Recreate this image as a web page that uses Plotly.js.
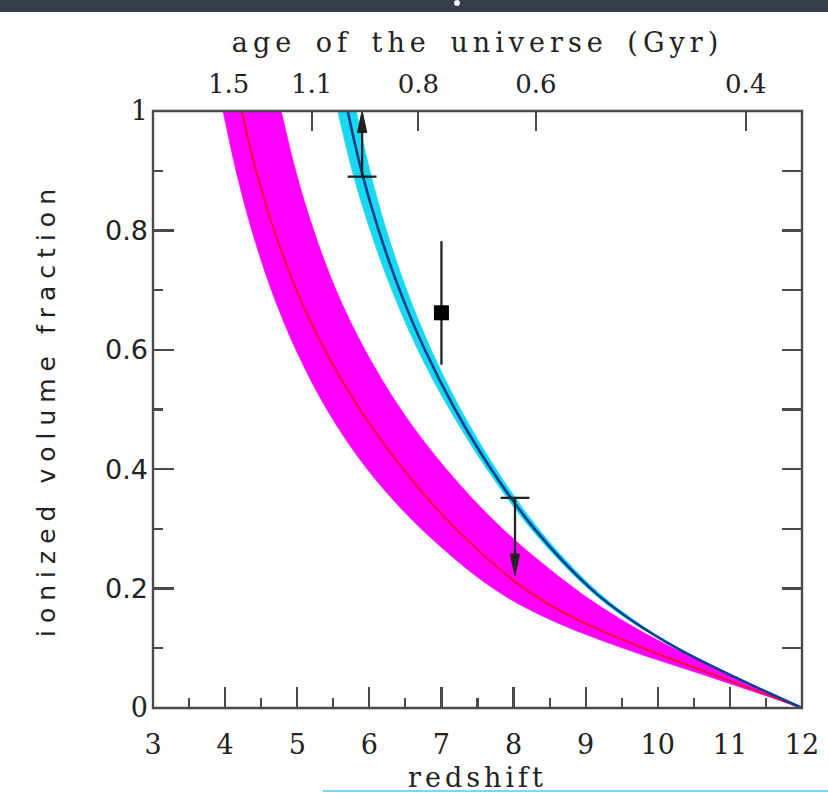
<!DOCTYPE html>
<html>
<head>
<meta charset="utf-8">
<script src="https://cdn.plot.ly/plotly-3.0.1.min.js"></script>
<style>
  html, body { margin: 0; padding: 0; background: #ffffff; }
  #chart { width: 828px; height: 793px; }
  .x2title { letter-spacing: 5px; word-spacing: 6px; }
  .ytitle { letter-spacing: 7px; }
  .xtitle { letter-spacing: 4px; }
</style>
</head>
<body>
<div id="chart"></div>
<script>
// ---------------- data ----------------
const redshiftTicks   = [3, 4, 5, 6, 7, 8, 9, 10, 11, 12];
const ageTickRedshift = [4.05, 5.2, 6.68, 8.31, 11.22];
const ageTickLabels   = ['1.5', '1.1', '0.8', '0.6', '0.4'];
const yTickVals       = [0, 0.2, 0.4, 0.6, 0.8, 1];
const yTickLabels     = ['<span style="font-family:DejaVu Serif">0</span>', '0.2', '0.4', '0.6', '0.8', '<span style="font-family:DejaVu Serif">1</span>'];

// ionized fraction levels at which the curves were read
const fracLevels = [1.0, 0.9, 0.8, 0.7, 0.6, 0.5, 0.4, 0.3, 0.2, 0.15, 0.1, 0.05, 0];

// magenta band (left / right edge) and its central red curve: redshift at each level
const magentaLowerZ = [3.97, 4.15, 4.37, 4.64, 4.98, 5.41, 5.97, 6.72, 7.72, 8.47, 9.52, 10.77, 12.0];
const magentaUpperZ = [4.78, 4.98, 5.23, 5.54, 5.94, 6.44, 7.07, 7.85, 8.85, 9.47, 10.22, 11.10, 12.0];
const redZ          = [4.23, 4.43, 4.68, 4.99, 5.38, 5.87, 6.47, 7.20, 8.15, 8.85, 9.80, 10.90, 12.0];

// cyan band (left / right edge) and its central blue curve
const cyanLowerZ = [5.56, 5.76, 6.01, 6.31, 6.67, 7.11, 7.63, 8.24, 9.03, 9.56, 10.25, 11.08, 12.0];
const cyanUpperZ = [5.82, 6.01, 6.24, 6.52, 6.86, 7.27, 7.76, 8.35, 9.12, 9.64, 10.30, 11.12, 12.0];
const blueZ      = [5.70, 5.89, 6.13, 6.42, 6.77, 7.19, 7.69, 8.29, 9.07, 9.60, 10.27, 11.10, 12.0];

// observational constraints
const lowerLimitZ = [5.9],  lowerLimitF = [0.89],  lowerLimitTo = [1.0];
const measZ = [7.0], measF = [0.662], measErrPlus = [0.12], measErrMinus = [0.087];
const upperLimitZ = [8.02], upperLimitF = [0.352], upperLimitTo = [0.222];

// ---------------- style constants ----------------
const W = 828, H = 793, ML = 153, MR = 26, MT = 111, MB = 85;
const PW = W - ML - MR, PH = H - MT - MB;
const CAP_HALF = 0.2;          // half width of limit caps (redshift units)
const HEAD_HALF = 0.065;       // arrow head half width (redshift units)
const HEAD_LEN = 0.036;        // arrow head length (fraction units)
const INK = '#222222', FRAME = '#4a4a4a';

function px2paperX(px) { return (px - ML) / PW; }
function px2paperY(py) { return (H - MB - py) / PH; }
function rev(a) { return a.slice().reverse(); }

// ---------------- traces ----------------
const traces = [];

traces.push({
  x: magentaLowerZ.concat(rev(magentaUpperZ)),
  y: fracLevels.concat(rev(fracLevels)),
  mode: 'lines', fill: 'toself', fillcolor: '#ff00ff',
  line: { color: '#ff00ff', width: 0.5, shape: 'spline', smoothing: 1 },
  hoverinfo: 'skip'
});
traces.push({
  x: redZ, y: fracLevels, mode: 'lines',
  line: { color: '#f0103c', width: 2, shape: 'spline', smoothing: 1 },
  hoverinfo: 'skip'
});
traces.push({
  x: cyanLowerZ.concat(rev(cyanUpperZ)),
  y: fracLevels.concat(rev(fracLevels)),
  mode: 'lines', fill: 'toself', fillcolor: '#1ad8f0',
  line: { color: '#1ad8f0', width: 0.5, shape: 'spline', smoothing: 1 },
  hoverinfo: 'skip'
});
traces.push({
  x: blueZ, y: fracLevels, mode: 'lines',
  line: { color: '#083f8e', width: 2.6, shape: 'spline', smoothing: 1 },
  hoverinfo: 'skip'
});

// measurement with error bar
traces.push({
  x: measZ, y: measF, mode: 'markers',
  marker: { symbol: 'square', size: 15, color: '#000000' },
  error_y: { type: 'data', symmetric: false, array: measErrPlus, arrayminus: measErrMinus,
             width: 0, thickness: 2.3, color: INK },
  hoverinfo: 'skip'
});

// limits: caps, shafts, heads
function limitTraces(zs, fs, tos) {
  const capX = [], capY = [], shX = [], shY = [], hdX = [], hdY = [];
  zs.forEach((z, i) => {
    const f = fs[i], t = tos[i], dir = t > f ? 1 : -1;
    capX.push(z - CAP_HALF, z + CAP_HALF, null); capY.push(f, f, null);
    shX.push(z, z, null); shY.push(f, t - dir * HEAD_LEN * 0.6, null);
    hdX.push(z - HEAD_HALF, z, z + HEAD_HALF, z - HEAD_HALF, null);
    hdY.push(t - dir * HEAD_LEN, t, t - dir * HEAD_LEN, t - dir * HEAD_LEN, null);
  });
  return [
    { x: capX, y: capY, mode: 'lines', line: { color: INK, width: 2.3 }, hoverinfo: 'skip' },
    { x: shX, y: shY, mode: 'lines', line: { color: INK, width: 2.3 }, hoverinfo: 'skip' },
    { x: hdX, y: hdY, mode: 'lines', fill: 'toself', fillcolor: INK, line: { color: INK, width: 1 }, hoverinfo: 'skip' }
  ];
}
traces.push(...limitTraces(lowerLimitZ, lowerLimitF, lowerLimitTo));
traces.push(...limitTraces(upperLimitZ, upperLimitF, upperLimitTo));

// carrier for the top and right axes
traces.push({ x: [], y: [], xaxis: 'x2', yaxis: 'y2', mode: 'markers', hoverinfo: 'skip' });

// ---------------- layout ----------------
const tickCommon = { ticks: 'inside', tickcolor: FRAME, tickwidth: 2.2, showgrid: false,
                     zeroline: false, showline: false, layer: 'below traces', fixedrange: true };

const layout = {
  width: W, height: H,
  margin: { l: ML, r: MR, t: MT, b: MB, pad: 0 },
  paper_bgcolor: '#ffffff', plot_bgcolor: '#ffffff',
  showlegend: false,
  xaxis: Object.assign({}, tickCommon, {
    range: [3, 12], tickmode: 'array', tickvals: redshiftTicks, ticklen: 21,
    minor: { ticks: 'inside', ticklen: 10, tickwidth: 2.2, tickcolor: FRAME, dtick: 0.5, showgrid: false },
    tickfont: { family: 'DejaVu Serif', size: 27, color: INK },
    ticklabelstandoff: 18,
    title: { text: 'redshift', font: { family: 'DejaVu Serif', size: 27, color: INK }, standoff: 22 }
  }),
  yaxis: Object.assign({}, tickCommon, {
    range: [0, 1], tickmode: 'array', tickvals: yTickVals, ticktext: yTickLabels, ticklen: 21,
    minor: { ticks: 'inside', ticklen: 10, tickwidth: 2.2, tickcolor: FRAME, dtick: 0.1, showgrid: false },
    tickfont: { family: 'DejaVu Sans', size: 27, color: INK },
    ticklabelstandoff: 4,
    title: { text: 'ionized volume fraction', font: { family: 'DejaVu Sans', size: 25, color: INK }, standoff: 42 }
  }),
  xaxis2: Object.assign({}, tickCommon, {
    overlaying: 'x', side: 'top', anchor: 'y2', range: [3, 12],
    tickmode: 'array', tickvals: ageTickRedshift, ticktext: ageTickLabels, ticklen: 20,
    tickfont: { family: 'DejaVu Serif', size: 26, color: INK },
    ticklabelstandoff: 12,
    title: { text: 'age of the universe (Gyr)', font: { family: 'DejaVu Serif', size: 27, color: INK }, standoff: 8 }
  }),
  yaxis2: Object.assign({}, tickCommon, {
    overlaying: 'y', side: 'right', anchor: 'x2', range: [0, 1],
    tickmode: 'linear', tick0: 0, dtick: 0.1, ticklen: 20, showticklabels: false
  }),
  shapes: [
    // plot frame
    { type: 'rect', xref: 'paper', yref: 'paper', x0: 0, x1: 1, y0: 0, y1: 1,
      line: { color: FRAME, width: 2.4 }, fillcolor: 'rgba(0,0,0,0)', layer: 'above' },
    // dark photo strip at the very top of the slide
    { type: 'rect', xref: 'paper', yref: 'paper', x0: px2paperX(0), x1: px2paperX(W),
      y0: px2paperY(12), y1: px2paperY(0), line: { width: 0 }, fillcolor: '#373d4b', layer: 'below' },
    { type: 'circle', xref: 'paper', yref: 'paper', x0: px2paperX(454), x1: px2paperX(460),
      y0: px2paperY(6), y1: px2paperY(0), line: { width: 0 }, fillcolor: '#f2f2f2', layer: 'above' },
    // thin cyan rule at the bottom of the slide
    { type: 'line', xref: 'paper', yref: 'paper', x0: px2paperX(323), x1: px2paperX(W),
      y0: px2paperY(791), y1: px2paperY(791), line: { color: '#74d8ff', width: 2 }, layer: 'above' }
  ]
};

Plotly.newPlot('chart', traces, layout, { displayModeBar: false, staticPlot: true });
</script>
</body>
</html>
